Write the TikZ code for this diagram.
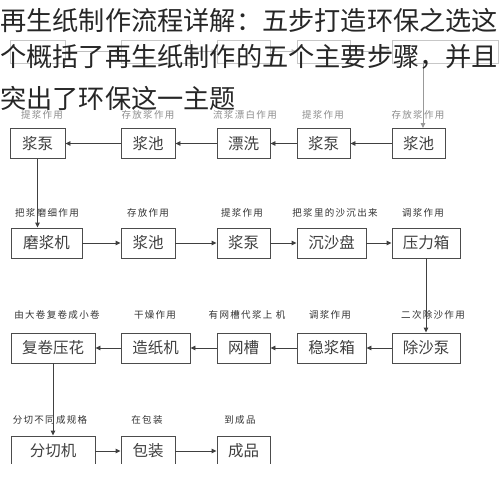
\documentclass[tikz,border=0pt]{standalone}
\usepackage{fontspec}
\newfontfamily\cjk{Noto Sans CJK SC}
\newfontfamily\cjklbl[LetterSpace=14]{Noto Sans CJK SC}
\usetikzlibrary{arrows.meta}
\tikzset{
  box/.style={draw=black!70, line width=0.9pt, minimum height=30pt, inner sep=0pt, text=black!75, font=\cjk\fontsize{15.5}{15.5}\selectfont},
  faint/.style={draw=black!22, line width=0.8pt, inner sep=0pt},
  lbl/.style={text=black!80, font=\cjklbl\fontsize{9.5}{9.5}\selectfont, inner sep=0pt},
  lblg/.style={text=black!45, font=\cjklbl\fontsize{9.5}{9.5}\selectfont, inner sep=0pt},
  conn/.style={draw=black!75, line width=0.9pt, -{Triangle[length=5pt,width=4.5pt]}},
  fconn/.style={draw=black!25, line width=0.8pt, -{Triangle[length=5pt,width=4.5pt]}},
  ttl/.style={text=black!85, font=\cjk\fontsize{26.2}{26.2}\selectfont, inner sep=0pt, anchor=west}
}
\begin{document}
\begin{tikzpicture}[x=1pt,y=-1pt]
\useasboundingbox (0,0) rectangle (500,482);
\fill[white] (0,0) rectangle (500,482);
% faint top row
\node[faint, minimum width=55pt, minimum height=23pt] (f1) at (37.5,51.5) {};
\node[faint, minimum width=69pt, minimum height=23pt] (f2) at (155.5,51.5) {};
\node[faint, minimum width=53pt, minimum height=23pt] (f3) at (243.5,51.5) {};
\node[faint, minimum width=53pt, minimum height=23pt] (f4) at (323.5,51.5) {};
\node[faint, minimum width=106pt, minimum height=23pt] (f5) at (445,51.5) {};
\draw[fconn] (f1) -- (f2);
\draw[fconn] (f2) -- (f3);
\draw[fconn] (f3) -- (f4);
\draw[fconn] (f4) -- (f5);
% row 1
\node[box, minimum width=53pt] (a1) at (418.5,143.5) {浆池};
\node[box, minimum width=53pt] (a2) at (323.5,143.5) {浆泵};
\node[box, minimum width=53pt] (a3) at (243.5,143.5) {漂洗};
\node[box, minimum width=54pt] (a4) at (148,143.5) {浆池};
\node[box, minimum width=55pt] (a5) at (37.5,143.5) {浆泵};
\coordinate (t1) at (423,63);
\draw[draw=black!40, line width=0.8pt, -{Triangle[length=5pt,width=4.5pt]}] (t1) -- (t1 |- a1.north);
\node[lblg] (la1) at (418,115) {存放浆作用};
\node[lblg] (la2) at (323,115) {提浆作用};
\node[lblg] (la3) at (245,115) {流浆漂白作用};
\node[lblg] (la4) at (148,115) {存放浆作用};
\node[lblg] (la5) at (42,115) {提浆作用};
\draw[conn] (a1) -- (a2);
\draw[conn] (a2) -- (a3);
\draw[conn] (a3) -- (a4);
\draw[conn] (a4) -- (a5);
% row 2
\node[box, minimum width=71pt] (b1) at (46.5,243) {磨浆机};
\node[box, minimum width=54pt] (b2) at (148,243) {浆池};
\node[box, minimum width=53pt] (b3) at (243.5,243) {浆泵};
\node[box, minimum width=69pt] (b4) at (331.5,243) {沉沙盘};
\node[box, minimum width=68pt] (b5) at (426,243) {压力箱};
\node[lbl] (lb1) at (47,213) {把浆磨细作用};
\node[lbl] (lb2) at (148,213) {存放作用};
\node[lbl] (lb3) at (242,213) {提浆作用};
\node[lbl] (lb4) at (335,213) {把浆里的沙沉出来};
\node[lbl] (lb5) at (423,213) {调浆作用};
\draw[conn] (a5.south) -- (a5.south |- b1.north);
\draw[conn] (b1) -- (b2);
\draw[conn] (b2) -- (b3);
\draw[conn] (b3) -- (b4);
\draw[conn] (b4) -- (b5);
% row 3
\node[box, minimum width=68pt] (c1) at (426,348) {除沙泵};
\node[box, minimum width=69pt] (c2) at (331.5,348) {稳浆箱};
\node[box, minimum width=53pt] (c3) at (243.5,348) {网槽};
\node[box, minimum width=69pt] (c4) at (155.5,348) {造纸机};
\node[box, minimum width=84pt] (c5) at (53,348) {复卷压花};
\node[lbl] (lc1) at (433,315) {二次除沙作用};
\node[lbl] (lc2) at (330,315) {调浆作用};
\node[lbl] (lc3) at (247,315) {有网槽代浆上\ 机};
\node[lbl] (lc4) at (155,315) {干燥作用};
\node[lbl] (lc5) at (57,315) {由大卷复卷成小卷};
\draw[conn] (b5.south) -- (b5.south |- c1.north);
\draw[conn] (c1) -- (c2);
\draw[conn] (c2) -- (c3);
\draw[conn] (c3) -- (c4);
\draw[conn] (c4) -- (c5);
% row 4 (cut off at bottom)
\begin{scope}
\clip (0,0) rectangle (500,463);
\node[box, minimum width=84pt] (d1) at (53,451) {分切机};
\node[box, minimum width=54pt] (d2) at (148,451) {包装};
\node[box, minimum width=53pt] (d3) at (243.5,451) {成品};
\end{scope}
\node[lbl] (ld1) at (50,420) {分切不同成规格};
\node[lbl] (ld2) at (147,420) {在包装};
\node[lbl] (ld3) at (240,420) {到成品};
\draw[conn] (c5.south) -- (c5.south |- d1.north);
\draw[conn] (d1.east |- 0,451) -- (d2.west |- 0,451);
\draw[conn] (d2.east |- 0,451) -- (d3.west |- 0,451);
% title overlay
\node[ttl] (t1l) at (0,21) {再生纸制作流程详解：五步打造环保之选这};
\node[ttl] (t2l) at (0,57) {个概括了再生纸制作的五个主要步骤，并且};
\node[ttl] (t3l) at (0,98) {突出了环保这一主题};
\end{tikzpicture}
\end{document}
